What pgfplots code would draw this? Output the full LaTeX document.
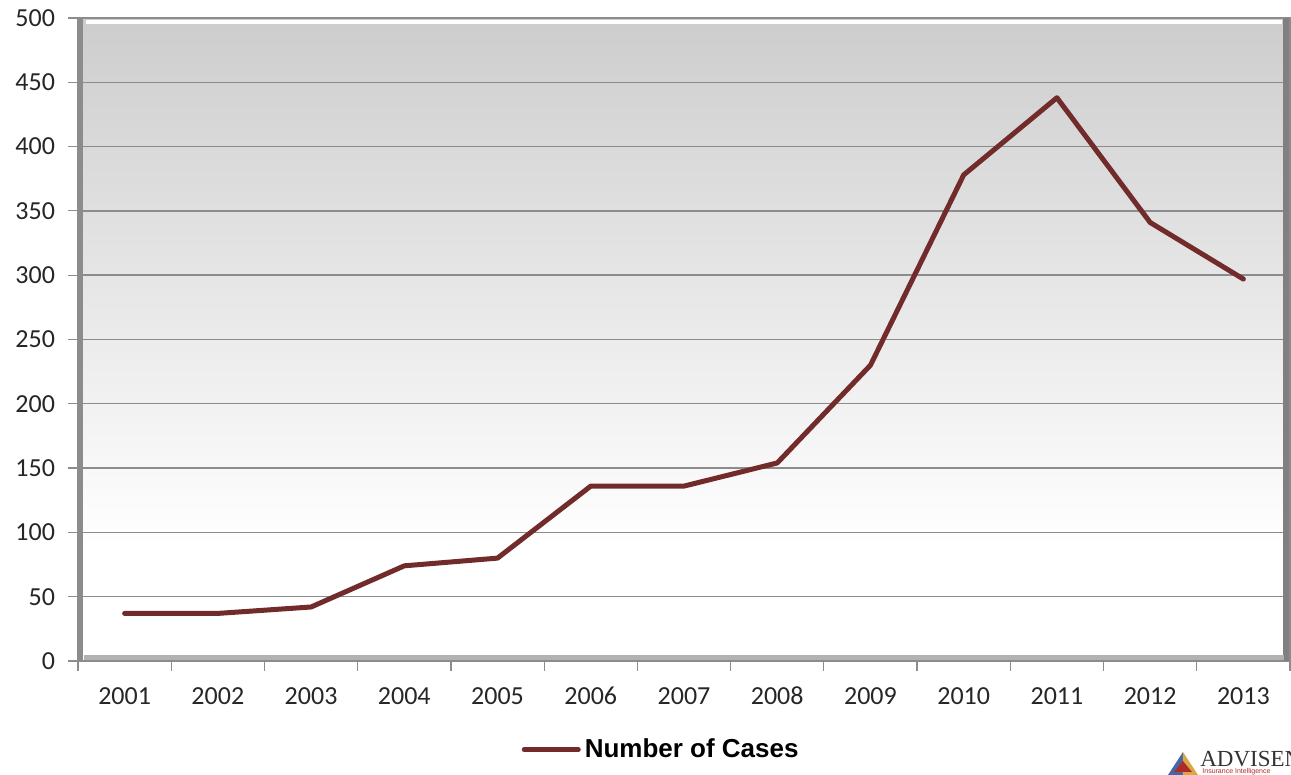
\documentclass[border=0pt]{standalone}
\usepackage{pgfplots}
\pgfplotsset{compat=1.18}
\usepackage{fontspec}
\setmainfont{Carlito}
\newfontfamily\arialfont{Liberation Sans}
\newfontfamily\logofont{Liberation Serif}

\definecolor{casesline}{HTML}{722B2B}
\definecolor{bgtop}{HTML}{CDCDCD}
\definecolor{gridgray}{HTML}{8C8C8C}
\definecolor{logored}{HTML}{B02A2A}
\definecolor{logoblue}{HTML}{4A66A0}
\definecolor{logogold}{HTML}{D9A845}

\pgfdeclareverticalshading{bggrad}{100bp}{color(0bp)=(white); color(34bp)=(white); color(75bp)=(bgtop); color(100bp)=(bgtop)}

\begin{document}
\begin{tikzpicture}
\begin{axis}[
    scale only axis,
    width=606pt, height=321.5pt,
    xmin=-0.5, xmax=12.5,
    ymin=0, ymax=500,
    xtick={0,...,12},
    xticklabels={2001,2002,2003,2004,2005,2006,2007,2008,2009,2010,2011,2012,2013},
    minor xtick={-0.5,0.5,...,12.5},
    ytick={0,50,...,500},
    major x tick style={draw=none},
    tick align=outside,
    tick pos=left,
    major tick length=5pt,
    minor tick length=5pt,
    tick style={gridgray, line width=0.6pt},
    ymajorgrids=true,
    grid style={gridgray, line width=0.7pt},
    axis line style={gridgray, line width=0.7pt},
    axis background/.style={shading=bggrad},
    ticklabel style={font=\fontsize{13}{15}\selectfont, text=black!85},
    yticklabel style={xshift=-3pt},
    xticklabel style={yshift=-4pt, text height=9pt, text depth=0pt},
    /pgf/number format/assume math mode=true,
    legend style={
        at={(axis description cs:0.482,-0.138)}, anchor=center,
        draw=none, fill=none,
        font=\arialfont\bfseries\fontsize{13}{15}\selectfont,
        inner sep=0pt,
    },
    legend image code/.code={\draw[#1, line width=2.5pt] (0pt,0pt) -- (27pt,0pt);},
    clip=false,
]
\addplot[casesline, line width=2.5pt, line join=round, line cap=round] coordinates {
    (0,37) (1,37) (2,42) (3,74) (4,80) (5,136) (6,136)
    (7,154) (8,230) (9,378) (10,438) (11,341) (12,297)
};
\addlegendentry{Number of Cases}

% bevel of the plot area
\draw[black!45, line width=2.5pt] ([xshift=1.5pt]rel axis cs:0,0) -- ([xshift=1.5pt]rel axis cs:0,1);
\draw[black!50, line width=3pt] ([xshift=-1.8pt]rel axis cs:1,0) -- ([xshift=-1.8pt]rel axis cs:1,1);
\draw[white, line width=2pt] ([yshift=-2pt, xshift=4pt]rel axis cs:0,1) -- ([yshift=-2pt, xshift=-4pt]rel axis cs:1,1);
\draw[black!30, line width=2.5pt] ([yshift=1.5pt, xshift=3pt]rel axis cs:0,0) -- ([yshift=1.5pt, xshift=-3pt]rel axis cs:1,0);

% logo
\fill[logoblue] (axis description cs:0.8977,-0.182) -- (axis description cs:0.9117,-0.1415) -- (axis description cs:0.9117,-0.182) -- cycle;
\fill[logogold] (axis description cs:0.9117,-0.182) -- (axis description cs:0.9117,-0.1415) -- (axis description cs:0.9257,-0.182) -- cycle;
\fill[logored] (axis description cs:0.9043,-0.1726) -- (axis description cs:0.9117,-0.1555) -- (axis description cs:0.9191,-0.1726) -- cycle;
\node[anchor=west, inner sep=0pt, font=\logofont\fontsize{11.5}{12}\selectfont, text=black!80]
    at (axis description cs:0.9257,-0.1524) {ADVISEN};
\node[anchor=west, inner sep=0pt, font=\arialfont\fontsize{3.5}{4}\selectfont, text=logored]
    at (axis description cs:0.9274,-0.1726) {Insurance Intelligence};
\end{axis}
\pgfresetboundingbox
\useasboundingbox (-39pt,-57pt) rectangle (606.5pt,330.5pt);
\end{tikzpicture}
\end{document}
